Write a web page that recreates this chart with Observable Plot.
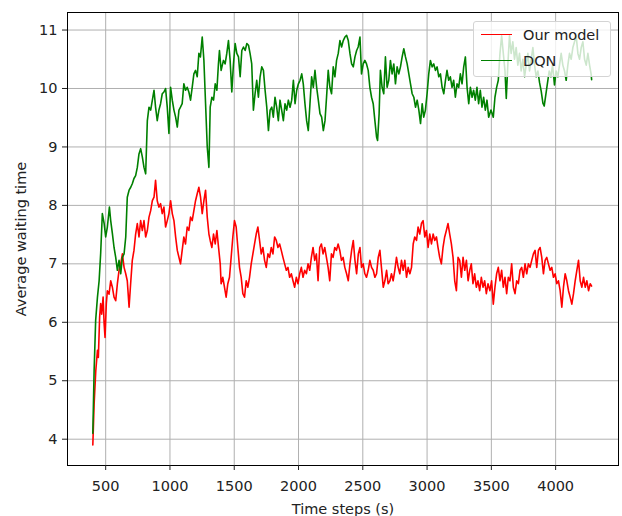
<!DOCTYPE html>
<html>
<head>
<meta charset="utf-8">
<script src="https://cdn.jsdelivr.net/npm/d3@7"></script>
<script src="https://cdn.jsdelivr.net/npm/@observablehq/plot@0.6"></script>
<style>
  html, body { margin: 0; padding: 0; background: #fff; }
  #wrap { position: relative; width: 622px; height: 516px; font-family: "DejaVu Sans", sans-serif; overflow: hidden; }
  #legend { position: absolute; left: 473px; top: 21px; width: 138px; height: 56px; box-sizing: border-box;
            background: rgba(255,255,255,0.8); border: 1px solid #d4d4d4; border-radius: 3px; }
  .row { position: absolute; left: 0; height: 20px; width: 100%; }
  .sw { position: absolute; left: 7px; width: 31px; height: 0; }
  .lb { position: absolute; left: 49px; font-size: 14.5px; color: #222; line-height: 20px; white-space: nowrap; }
</style>
</head>
<body>
<div id="wrap"></div>
<script>
const seriesNames = ["Our model", "DQN"];
const seriesColors = ["red", "green"];
const xTicks = [500, 1000, 1500, 2000, 2500, 3000, 3500, 4000];
const yTicks = [4, 5, 6, 7, 8, 9, 10, 11];

// Our model: [time step, average waiting time]
const ourModel = [[400,3.9],[410,4.60],[423,5.17],[436,5.52],[443,5.40],[453,6.09],[461,6.32],[469,6.14],[480,6.43],[488,5.97],[495,5.74],[505,6.32],[513,6.54],[526,6.48],[539,6.71],[552,6.60],[565,6.43],[578,6.37],[591,6.66],[604,6.89],[617,7.00],[630,7.17],[643,6.94],[656,6.83],[668,6.71],[682,6.26],[694,6.66],[707,7.06],[720,7.23],[733,7.51],[746,7.69],[759,7.46],[772,7.74],[785,7.57],[798,7.74],[811,7.46],[824,7.57],[837,7.80],[850,7.91],[863,8.08],[876,8.14],[888,8.43],[901,8.08],[914,7.97],[927,8.03],[940,7.86],[953,7.97],[966,7.63],[979,7.74],[992,7.86],[1005,8.08],[1018,7.86],[1031,7.74],[1044,7.46],[1057,7.23],[1070,7.11],[1082,7.00],[1095,7.23],[1108,7.46],[1121,7.34],[1134,7.63],[1147,7.57],[1160,7.80],[1173,7.74],[1186,7.91],[1199,8.08],[1212,8.20],[1225,8.31],[1238,8.14],[1251,7.86],[1264,8.08],[1277,8.26],[1290,7.80],[1303,7.51],[1313,7.40],[1326,7.28],[1339,7.51],[1352,7.34],[1365,7.57],[1378,7.28],[1391,7.00],[1398,6.66],[1411,6.77],[1424,6.60],[1437,6.43],[1450,6.66],[1463,6.77],[1476,7.11],[1489,7.46],[1502,7.74],[1515,7.63],[1528,7.28],[1541,6.94],[1554,6.77],[1567,6.49],[1580,6.43],[1593,6.71],[1606,6.60],[1619,6.77],[1632,7.00],[1645,7.17],[1658,7.34],[1671,7.51],[1684,7.63],[1697,7.40],[1710,7.17],[1723,7.28],[1736,7.06],[1749,6.94],[1762,7.17],[1775,7.11],[1788,7.28],[1801,7.17],[1814,7.46],[1827,7.40],[1840,7.28],[1853,7.34],[1866,7.23],[1879,7.11],[1892,7.00],[1905,6.89],[1918,6.94],[1931,6.77],[1944,6.83],[1957,6.71],[1970,6.60],[1983,6.77],[1996,6.66],[2009,6.83],[2022,6.94],[2035,6.77],[2048,6.89],[2061,6.83],[2074,7.00],[2087,6.89],[2100,7.11],[2113,7.28],[2126,7.06],[2139,7.17],[2152,6.71],[2165,7.28],[2178,7.34],[2191,7.17],[2204,7.28],[2217,7.11],[2230,6.94],[2243,6.71],[2256,7.17],[2269,7.11],[2282,7.28],[2295,7.23],[2308,7.34],[2321,7.23],[2334,7.06],[2347,7.11],[2360,6.94],[2374,6.83],[2387,6.71],[2400,7.00],[2413,7.23],[2426,7.40],[2439,7.06],[2452,6.83],[2465,7.17],[2478,7.28],[2490,6.94],[2503,7.00],[2516,6.83],[2529,6.77],[2542,6.89],[2555,7.06],[2568,6.94],[2581,6.89],[2594,6.77],[2607,6.83],[2620,7.11],[2633,7.23],[2645,6.94],[2659,6.60],[2672,6.71],[2685,6.89],[2697,6.66],[2711,6.71],[2723,6.83],[2736,6.71],[2749,6.89],[2762,7.11],[2775,6.94],[2788,6.83],[2801,7.06],[2814,6.89],[2827,7.06],[2840,6.77],[2853,6.94],[2866,6.83],[2879,6.94],[2892,7.34],[2904,7.46],[2918,7.40],[2930,7.63],[2943,7.51],[2956,7.69],[2969,7.74],[2982,7.46],[2995,7.57],[3008,7.28],[3021,7.51],[3034,7.34],[3047,7.51],[3060,7.40],[3073,7.46],[3085,7.28],[3098,7.11],[3111,7.00],[3124,7.28],[3137,7.46],[3150,7.57],[3163,7.69],[3176,7.51],[3189,7.34],[3202,7.11],[3215,6.71],[3228,6.54],[3241,7.11],[3254,7.06],[3267,6.77],[3280,7.11],[3293,6.89],[3306,7.06],[3319,6.71],[3332,6.89],[3344,7.00],[3357,6.66],[3370,6.83],[3383,6.60],[3396,6.71],[3409,6.54],[3422,6.77],[3435,6.60],[3448,6.71],[3461,6.49],[3474,6.66],[3489,6.54],[3502,6.71],[3515,6.31],[3528,6.60],[3541,6.83],[3554,6.94],[3567,6.71],[3580,6.89],[3593,6.60],[3606,6.77],[3619,6.49],[3632,6.77],[3645,6.71],[3658,7.00],[3671,6.60],[3684,6.49],[3697,6.71],[3710,6.66],[3723,6.89],[3736,6.94],[3749,6.77],[3762,7.00],[3775,6.83],[3788,7.00],[3801,6.94],[3814,7.06],[3827,7.17],[3840,7.23],[3853,6.94],[3866,7.23],[3879,7.28],[3892,7.11],[3905,6.83],[3918,7.06],[3931,7.11],[3944,7.00],[3957,6.89],[3970,6.94],[3983,6.77],[3996,6.83],[4009,6.66],[4022,6.71],[4035,6.54],[4048,6.26],[4061,6.60],[4074,6.83],[4087,6.71],[4100,6.54],[4113,6.43],[4126,6.31],[4139,6.49],[4152,6.71],[4165,6.89],[4178,7.06],[4191,6.71],[4204,6.60],[4217,6.77],[4230,6.60],[4243,6.71],[4256,6.54],[4269,6.66],[4280,6.62]];

// DQN: [time step, average waiting time]
const dqn = [[400,4.1],[410,5.17],[422,6.03],[436,6.43],[449,6.71],[461,7.18],[474,7.86],[488,7.69],[500,7.46],[513,7.63],[529,7.97],[539,7.74],[552,7.52],[565,7.28],[578,7.11],[591,6.89],[604,7.06],[617,6.83],[630,7.11],[643,7.17],[656,7.46],[668,8.14],[682,8.26],[695,8.31],[707,8.37],[720,8.46],[733,8.51],[746,8.65],[759,8.88],[772,8.97],[785,8.83],[798,8.65],[811,8.54],[824,9.45],[837,9.68],[850,9.63],[863,9.80],[876,9.97],[888,9.68],[901,9.45],[914,9.63],[927,9.74],[940,9.91],[953,9.94],[966,10.0],[979,9.68],[992,9.23],[1005,10.02],[1018,9.80],[1031,9.63],[1044,9.51],[1057,9.34],[1070,9.63],[1082,9.68],[1095,9.74],[1108,10.08],[1121,9.97],[1134,10.02],[1147,9.94],[1160,9.80],[1173,10.02],[1186,10.25],[1199,10.31],[1212,10.20],[1225,10.60],[1237,10.54],[1251,10.88],[1264,10.48],[1277,9.74],[1290,9.0],[1303,8.65],[1313,9.68],[1326,9.85],[1339,9.80],[1352,10.08],[1365,9.97],[1377,10.42],[1385,10.65],[1398,10.31],[1416,10.48],[1429,10.42],[1442,10.60],[1455,10.82],[1468,10.48],[1481,9.94],[1494,10.42],[1507,10.77],[1520,10.60],[1533,10.54],[1546,10.20],[1559,10.65],[1572,10.71],[1585,10.65],[1598,10.77],[1611,10.74],[1623,10.60],[1636,10.42],[1649,9.63],[1662,9.91],[1675,10.14],[1688,9.85],[1701,10.20],[1714,10.37],[1727,10.31],[1740,9.97],[1753,9.68],[1766,9.28],[1779,9.63],[1792,9.68],[1804,9.51],[1817,9.85],[1830,9.68],[1843,9.45],[1856,9.80],[1869,9.63],[1882,9.45],[1895,9.74],[1908,9.63],[1921,9.80],[1934,9.68],[1947,9.80],[1960,10.14],[1973,9.74],[1986,9.97],[1999,10.08],[2012,10.14],[2025,10.25],[2037,10.08],[2050,9.74],[2063,9.45],[2076,9.28],[2089,9.74],[2102,10.20],[2115,10.02],[2128,10.31],[2141,10.02],[2154,9.80],[2167,9.57],[2180,9.51],[2193,9.28],[2206,9.45],[2218,9.85],[2231,10.31],[2244,10.02],[2257,9.91],[2270,10.37],[2283,10.20],[2296,10.48],[2309,10.60],[2322,10.82],[2335,10.71],[2348,10.82],[2361,10.88],[2374,10.91],[2387,10.82],[2400,10.60],[2413,10.42],[2426,10.37],[2439,10.54],[2452,10.65],[2464,10.71],[2478,10.88],[2490,10.25],[2503,10.42],[2516,10.48],[2529,10.42],[2542,10.31],[2555,10.02],[2568,9.85],[2581,9.74],[2594,9.45],[2607,9.17],[2615,9.11],[2627,9.57],[2637,10.31],[2650,10.02],[2663,9.91],[2676,10.54],[2689,10.02],[2702,10.14],[2715,10.48],[2728,10.25],[2741,10.42],[2754,10.08],[2767,10.37],[2780,10.25],[2793,10.37],[2806,10.54],[2819,10.68],[2832,10.54],[2845,10.42],[2858,10.25],[2871,10.08],[2884,9.91],[2897,9.85],[2910,9.68],[2923,9.80],[2936,9.63],[2949,9.40],[2962,9.74],[2974,9.51],[2987,9.63],[3000,9.91],[3013,10.25],[3026,10.48],[3039,10.37],[3052,10.42],[3065,10.31],[3078,10.37],[3091,10.20],[3104,10.25],[3117,10.02],[3130,9.91],[3143,10.14],[3155,10.31],[3168,10.14],[3181,10.20],[3194,10.02],[3207,10.14],[3220,9.85],[3233,10.08],[3246,10.02],[3259,10.25],[3272,10.08],[3285,10.37],[3298,10.54],[3311,10.02],[3324,9.74],[3337,10.02],[3350,9.85],[3362,9.97],[3375,9.80],[3388,10.02],[3401,9.74],[3414,9.97],[3427,9.68],[3440,9.85],[3453,9.63],[3466,9.80],[3479,9.51],[3497,9.63],[3515,9.51],[3528,9.85],[3541,10.02],[3554,10.14],[3567,10.6],[3580,10.9],[3593,10.6],[3606,10.3],[3616,9.83],[3628,10.4],[3641,10.9],[3654,10.6],[3667,10.8],[3680,10.5],[3693,10.7],[3706,10.4],[3719,10.6],[3732,10.3],[3745,10.5],[3758,10.2],[3771,10.4],[3784,10.6],[3797,10.3],[3810,10.5],[3823,10.7],[3836,10.4],[3849,10.2],[3862,10.3],[3875,10.1],[3888,9.95],[3901,9.75],[3911,9.70],[3924,9.9],[3937,10.1],[3950,10.3],[3963,10.2],[3976,10.4],[3991,10.06],[4004,10.3],[4017,10.2],[4030,10.4],[4043,10.6],[4056,10.4],[4069,10.3],[4082,10.14],[4095,10.4],[4108,10.6],[4121,10.5],[4134,10.7],[4147,10.8],[4160,10.9],[4173,10.6],[4186,10.5],[4199,10.7],[4212,10.8],[4225,10.5],[4238,10.4],[4251,10.6],[4264,10.4],[4276,10.25],[4280,10.15]];

const gridStyle = {stroke: "#b0b0b0", strokeOpacity: 1, strokeWidth: 1};
const plainNumber = d => String(d);

const chart = Plot.plot({
  width: 622,
  height: 516,
  marginLeft: 67,
  marginRight: 4,
  marginTop: 12,
  marginBottom: 51,
  style: {fontFamily: "DejaVu Sans, sans-serif", fontSize: "14.5px", color: "#222", background: "white", overflow: "visible"},
  x: {domain: [203, 4489]},
  y: {domain: [3.55, 11.30]},
  marks: [
    Plot.gridX(xTicks, gridStyle),
    Plot.gridY(yTicks, gridStyle),
    Plot.line(ourModel, {x: d => d[0], y: d => d[1], stroke: seriesColors[0], strokeWidth: 1.6}),
    Plot.line(dqn, {x: d => d[0], y: d => d[1], stroke: seriesColors[1], strokeWidth: 1.6}),
    Plot.frame({stroke: "black", strokeWidth: 1}),
    Plot.axisX(xTicks, {tickSize: 5, tickPadding: 10, stroke: "#222", tickFormat: plainNumber, label: "Time steps (s)", labelAnchor: "center", labelOffset: 48, labelArrow: "none"}),
    Plot.axisY(yTicks, {tickSize: 5, tickPadding: 5, stroke: "#222", tickFormat: plainNumber, label: "Average waiting time", labelAnchor: "center", labelOffset: 52, labelArrow: "none"})
  ]
});

const wrap = document.getElementById("wrap");
wrap.appendChild(chart);

const legend = document.createElement("div");
legend.id = "legend";
seriesNames.forEach((name, i) => {
  const row = document.createElement("div");
  row.className = "row";
  row.style.top = (3 + i * 26) + "px";
  const sw = document.createElement("div");
  sw.className = "sw";
  sw.style.top = "9px";
  sw.style.borderTop = "1.6px solid " + seriesColors[i];
  const lb = document.createElement("div");
  lb.className = "lb";
  lb.style.top = "0px";
  lb.textContent = name;
  row.appendChild(sw);
  row.appendChild(lb);
  legend.appendChild(row);
});
wrap.appendChild(legend);
</script>
</body>
</html>
